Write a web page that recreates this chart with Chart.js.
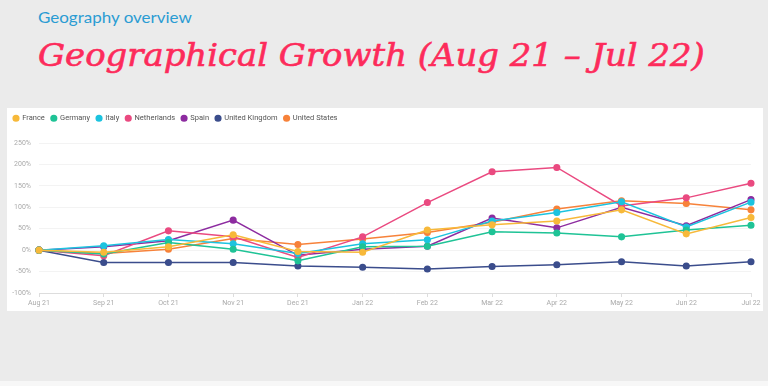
<!DOCTYPE html>
<html>
<head>
<meta charset="utf-8">
<script src="https://cdn.jsdelivr.net/npm/chart.js@4"></script>
<style>
    html, body { margin: 0; padding: 0; }
    body { width: 768px; height: 386px; background: #ebebeb; position: relative; overflow: hidden; }
    .subtitle { position: absolute; left: 38px; top: 8px; font-family: Lato, sans-serif; font-size: 15px; color: #2a9cd3; white-space: nowrap; transform-origin: 0 0; }
    .title { position: absolute; left: 38px; top: 37px; font-family: "DejaVu Serif", serif; font-style: italic; font-size: 31px; color: #fd2b5b; white-space: nowrap; transform-origin: 0 0; -webkit-text-stroke: 0.6px #fd2b5b; }
    .panel { position: absolute; left: 7px; top: 108px; width: 756px; height: 203px; background: #fff; }
    .strip { position: absolute; left: 0; top: 381px; width: 768px; height: 5px; background: #f7f7f7; }
</style>
</head>
<body>
<div class="subtitle" id="subtitle">Geography overview</div>
<div class="title" id="title">Geographical Growth (Aug 21 – Jul 22)</div>
<div class="panel"><canvas id="growthChart" width="756" height="203"></canvas></div>
<div class="strip"></div>
<script>
const months = ['Aug 21', 'Sep 21', 'Oct 21', 'Nov 21', 'Dec 21', 'Jan 22', 'Feb 22', 'Mar 22', 'Apr 22', 'May 22', 'Jun 22', 'Jul 22'];
const countries = ['France', 'Germany', 'Italy', 'Netherlands', 'Spain', 'United Kingdom', 'United States'];

const france      = [0, -5, 8, 36, -3, -5, 47, 59, 68, 94, 38, 76];
const germany     = [0, -9, 18, 2, -25, 8, 9, 43, 40, 31, 47, 58];
const italy       = [0, 10, 25, 15, -8, 15, 24, 68, 88, 113, 54, 112];
const netherlands = [0, -13, 45, 31, -17, 31, 111, 183, 193, 103, 122, 156];
const spain       = [0, 8, 22, 70, -12, 2, 9, 75, 52, 100, 57, 118];
const unitedKingdom = [0, -29, -29, -29, -37, -40, -44, -38, -34, -27, -37, -27];
const unitedStates  = [0, -8, 2, 27, 13, 26, 41, 65, 96, 115, 109, 94];

const yTicks = [-100, -50, 0, 50, 100, 150, 200, 250];

const seriesValues = [france, germany, italy, netherlands, spain, unitedKingdom, unitedStates];
const colors = ['#f7b93a', '#1fc396', '#1cc3df', '#ea4a80', '#8d2ca0', '#3b4d8c', '#f7823a'];

// squeeze the headings to the widths they have in the reference
function fitWidth(id, width) {
    const el = document.getElementById(id);
    el.style.transform = `scaleX(${width / el.offsetWidth})`;
}
fitWidth('title', 667);
fitWidth('subtitle', 154);

// fixed legend height so the plot area starts where it does in the reference
const legendHeight = {
    id: 'legendHeight',
    beforeLayout(chart) {
        const legend = chart.legend;
        if (!legend || legend._fixed) return;
        const fit = legend.fit;
        legend.fit = function () {
            fit.call(this);
            this.height = 35;
        };
        legend._fixed = true;
    }
};

const ctx = document.getElementById('growthChart').getContext('2d');
new Chart(ctx, {
    type: 'line',
    data: {
        labels: months,
        datasets: countries.map((name, i) => ({
            label: name,
            data: seriesValues[i],
            borderColor: colors[i],
            backgroundColor: colors[i],
            borderWidth: 1.5,
            pointRadius: 2.8,
            pointHoverRadius: 2.8,
            tension: 0
        }))
    },
    options: {
        responsive: false,
        animation: false,
        layout: { padding: { top: 0, right: 12, bottom: 0, left: 0 } },
        plugins: {
            legend: {
                position: 'top',
                align: 'start',
                labels: {
                    usePointStyle: true,
                    pointStyle: 'circle',
                    boxWidth: 5,
                    boxHeight: 4,
                    padding: 6.5,
                    color: '#555',
                    font: { family: 'Roboto', size: 7.5 }
                }
            },
            tooltip: { enabled: false }
        },
        scales: {
            x: {
                grid: { drawOnChartArea: false, tickLength: 4, color: '#ddd' },
                border: { color: '#ddd' },
                ticks: { color: '#aaa', font: { family: 'Roboto', size: 7 }, padding: 2, maxRotation: 0 },
                afterFit: s => { s.height = 18; }
            },
            y: {
                min: -100,
                max: 250,
                afterBuildTicks: s => { s.ticks = yTicks.map(v => ({ value: v })); },
                grid: { color: '#f3f3f3', drawTicks: false },
                border: { display: false },
                ticks: {
                    color: '#aaa',
                    padding: 8,
                    font: { family: 'Roboto', size: 7 },
                    callback: v => v + '%'
                },
                afterFit: s => { s.width = 32; }
            }
        }
    },
    plugins: [legendHeight]
});
</script>
</body>
</html>
